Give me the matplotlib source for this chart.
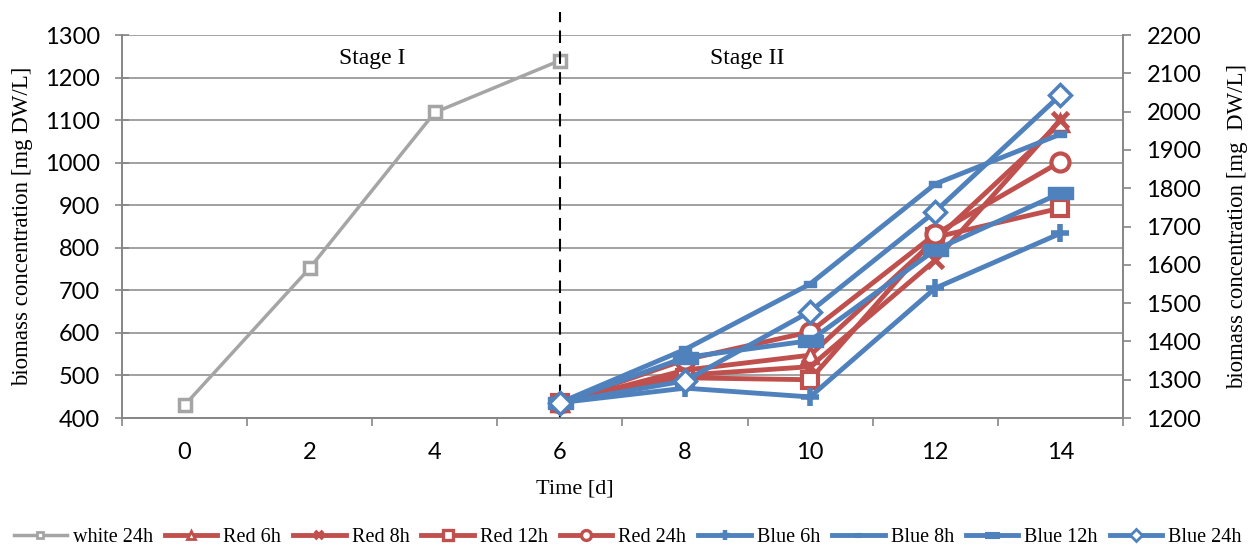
import matplotlib
matplotlib.use('Agg')
from matplotlib import pyplot as plt
from matplotlib.lines import Line2D

# Данные
days_stage1 = [0, 2, 4, 6]
days_stage2 = [6, 8, 10, 12, 14]

white_24h = [430, 752, 1118, 1240]

red_6h = [1240, 1325, 1364, 1665, 1970]
red_8h = [1240, 1312, 1334, 1612, 1978]
red_12h = [1240, 1305, 1300, 1672, 1748]
red_24h = [1240, 1352, 1425, 1680, 1869]
blue_6h = [1240, 1278, 1255, 1539, 1682]
blue_8h = [1240, 1379, 1550, 1811, 1941]
blue_12h = [1240, 1358, 1402, 1639, 1787]
blue_24h = [1240, 1297, 1478, 1739, 2043]

x_labels = [0, 2, 4, 6, 8, 10, 12, 14]

GRAY = '#A5A5A5'
RED = '#C0504D'
BLUE = '#4F81BD'
AXC = '#868686'
SERIF = 'Liberation Serif'
SANS = 'Lato'

small_bar = [(-1, -0.55), (1, -0.55), (1, 0.55), (-1, 0.55), (-1, -0.55)]
big_bar = [(-1, -0.5), (1, -0.5), (1, 0.5), (-1, 0.5), (-1, -0.5)]

fig = plt.figure(figsize=(12.56, 5.47), dpi=100)
ax = fig.add_axes([0.0971, 0.2358, 0.7969, 0.7002])
ax2 = ax.twinx()

ax.plot(days_stage1, white_24h, color=GRAY, lw=2.5, marker='s', ms=9,
        mfc='white', mec=GRAY, mew=2.5, label='white 24h')
# разделительная линия между стадиями (выходит чуть выше графика)
ax.plot([6, 6], [0, 1.06], transform=ax.get_xaxis_transform(), color='black',
        lw=1.5, ls=(0, (6, 4)), zorder=3, clip_on=False)

series = [
    (red_6h, RED, '^', 11, 'white', 2.5, 'Red 6h'),
    (red_8h, RED, 'x', 11, RED, 3.5, 'Red 8h'),
    (red_12h, RED, 's', 12, 'white', 3, 'Red 12h'),
    (red_24h, RED, 'o', 13, 'white', 3, 'Red 24h'),
    (blue_6h, BLUE, '+', 13, BLUE, 4, 'Blue 6h'),
    (blue_8h, BLUE, small_bar, 9, BLUE, 1, 'Blue 8h'),
    (blue_12h, BLUE, big_bar, 18, BLUE, 1, 'Blue 12h'),
    (blue_24h, BLUE, 'D', 11, 'white', 2.5, 'Blue 24h'),
]
for vals, col, mk, ms, mfc, mew, lab in series:
    ax2.plot(days_stage2, vals, color=col, lw=3.5, marker=mk, ms=ms,
             mfc=mfc, mec=col, mew=mew, label=lab)

ax.set_xlim(-1, 15)
ax.set_ylim(400, 1300)
ax2.set_ylim(1200, 2200)
ax.set_yticks(range(400, 1301, 100))
ax2.set_yticks(range(1200, 2201, 100))
ax.set_xticks(x_labels)
ax.set_xticks(range(-1, 16, 2), minor=True)
ax.tick_params(axis='x', which='major', length=0, pad=17, labelsize=17)
ax.tick_params(axis='x', which='minor', length=6, color=AXC, width=1.2)
ax.tick_params(axis='y', direction='inout', length=10, color=AXC, width=1.2,
               labelsize=17, pad=11)
ax2.tick_params(axis='y', direction='out', length=6, color=AXC, width=1.2,
                labelsize=17, pad=11)
for a in (ax, ax2):
    for lbl in a.get_xticklabels() + a.get_yticklabels():
        lbl.set_fontfamily(SANS)
    for side in ('left', 'right', 'bottom'):
        a.spines[side].set_color(AXC)
        a.spines[side].set_linewidth(1.2)
    a.spines['top'].set_visible(False)

ax.yaxis.grid(True, color='#9A9A9A', lw=1.3)
ax.set_axisbelow(True)

ax.set_xlabel('Time [d]', fontfamily=SERIF, fontsize=16, labelpad=12, x=0.4525)
ax.set_ylabel('biomass concentration [mg DW/L]', fontfamily=SERIF, fontsize=16.5, labelpad=8)
ax2.set_ylabel('biomass concentration [mg  DW/L]', fontfamily=SERIF, fontsize=16.5, labelpad=18)

ax.text(3, 1245, 'Stage I', ha='center', va='center', fontfamily=SERIF, fontsize=17)
ax.text(9, 1245, 'Stage II', ha='center', va='center', fontfamily=SERIF, fontsize=17)

handles = ax.get_lines()[:1] + ax2.get_lines()
labels = [h.get_label() for h in handles]
leg_handles = []
for h in handles:
    ms = h.get_markersize() * 0.55
    leg_handles.append(Line2D([], [], color=h.get_color(), lw=h.get_linewidth(),
                              marker=h.get_marker(), ms=ms, mfc=h.get_markerfacecolor(),
                              mec=h.get_markeredgecolor(), mew=h.get_markeredgewidth() * 0.8))
fig.legend(leg_handles, labels, loc='center', bbox_to_anchor=(0.5, 10 / 547), ncol=9,
           frameon=False, prop={'family': SERIF, 'size': 14.5}, handlelength=2.6,
           handletextpad=0.3, columnspacing=0.6, borderpad=0.2)

fig.savefig('out.png', dpi=100)
